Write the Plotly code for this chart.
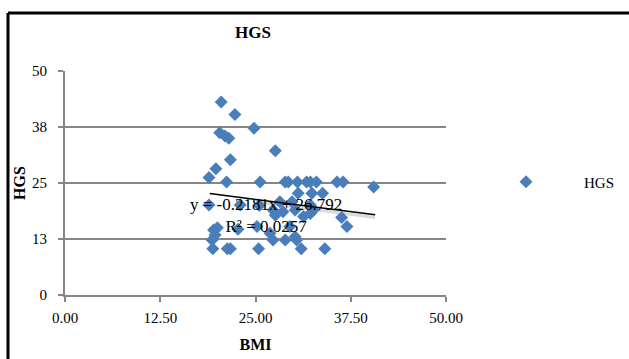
import plotly.graph_objects as go

bmi = [20.5, 22.3, 20.3, 21.0, 21.5, 24.8, 27.6, 21.7, 19.8, 18.9,
       21.2, 25.6, 28.9, 29.3, 30.5, 31.7, 32.2, 33.0, 35.7, 36.5,
       40.5, 30.6, 32.4, 33.8, 18.9, 23.0, 25.5, 28.2, 29.8, 32.2,
       27.3, 28.6, 30.2, 32.6, 31.3, 32.2, 36.3, 27.6, 37.0, 29.5,
       25.2, 19.5, 19.7, 19.3, 20.0, 22.7, 26.9, 27.3, 28.9, 30.2,
       30.4, 19.4, 21.3, 21.7, 25.4, 31.0, 34.1]
hgs = [43.1, 40.3, 36.2, 35.5, 35.0, 37.2, 32.2, 30.2, 28.2, 26.2,
       25.2, 25.2, 25.2, 25.2, 25.2, 25.2, 25.2, 25.2, 25.2, 25.2,
       24.1, 22.7, 22.7, 22.7, 20.1, 20.1, 20.0, 20.8, 20.8, 20.1,
       19.0, 18.6, 19.0, 19.0, 17.5, 18.2, 17.3, 17.8, 15.3, 15.3,
       15.3, 14.5, 13.4, 12.3, 15.0, 14.7, 13.8, 12.3, 12.3, 13.0,
       12.3, 10.3, 10.3, 10.3, 10.3, 10.3, 10.3]

slope = -0.2181
intercept = 26.792
r2 = 0.0257
trend_x = [19.0, 40.7]

x_ticks = [0, 12.5, 25, 37.5, 50]
x_tick_text = ["0.00", "12.50", "25.00", "37.50", "50.00"]
y_ticks = [0, 12.5, 25, 37.5, 50]
y_tick_text = ["0", "13", "25", "38", "50"]

FONT = "Liberation Serif, Times New Roman, serif"
BLUE = "#4A7EBB"
GRID = "#868686"

trend_y = [slope * v + intercept for v in trend_x]

fig = go.Figure()
# shadow of trendline
fig.add_trace(go.Scatter(x=[trend_x[0] + 6, trend_x[1]],
                         y=[slope * (trend_x[0] + 6) + intercept - 0.6, trend_y[1] - 0.6],
                         mode="lines", line=dict(color="#dadada", width=3),
                         showlegend=False, hoverinfo="skip"))
fig.add_trace(go.Scatter(x=bmi, y=hgs, mode="markers", name="HGS",
                         marker=dict(symbol="diamond", size=10, color=BLUE,
                                     line=dict(width=0))))
fig.add_trace(go.Scatter(x=trend_x, y=trend_y, mode="lines",
                         line=dict(color="black", width=1.6), showlegend=False,
                         hoverinfo="skip"))

# equation label (two lines, one text block)
fig.add_annotation(x=(266 - 65) / 381, y=(295 - 215) / 224, xref="paper", yref="paper",
                   showarrow=False, text=f"y = {slope}x + {intercept}<br>R² = {r2}",
                   borderpad=0, align="center",
                   font=dict(family=FONT, size=17, color="black"))

# frame (top and left border)
fig.add_shape(type="line", xref="paper", yref="paper",
              x0=(8 - 65) / 381, x1=2.0, y0=(295 - 13) / 224, y1=(295 - 13) / 224,
              line=dict(color="black", width=3))
fig.add_shape(type="line", xref="paper", yref="paper",
              x0=(8 - 65) / 381, x1=(8 - 65) / 381, y0=-1.0, y1=(295 - 13) / 224,
              line=dict(color="black", width=3))

fig.update_layout(
    width=629, height=359,
    margin=dict(l=65, r=183, t=71, b=64, autoexpand=False),
    paper_bgcolor="white", plot_bgcolor="white",
    font=dict(family=FONT, size=15, color="black"),
    title=dict(text="<b>HGS</b>", x=(253) / 629, xanchor="center",
               y=1 - 32 / 359, yanchor="middle",
               font=dict(family=FONT, size=17, color="black")),
    showlegend=True,
    legend=dict(x=(468 - 65) / 381, y=(295 - 182) / 224, xanchor="left", yanchor="middle",
                font=dict(family=FONT, size=15, color="black"),
                itemwidth=106, bgcolor="rgba(0,0,0,0)"),
    xaxis=dict(range=[0, 50], tickvals=x_ticks, ticktext=x_tick_text,
               showgrid=False, zeroline=False, showline=True, linecolor=GRID, linewidth=2,
               ticks="outside", ticklen=5, tickwidth=2, tickcolor=GRID,
               tickfont=dict(family=FONT, size=15), ticklabelstandoff=3,
               title=dict(text="<b>BMI</b>", font=dict(family=FONT, size=16), standoff=14)),
    yaxis=dict(range=[0, 50], tickvals=y_ticks, ticktext=y_tick_text,
               showgrid=True, gridcolor=GRID, gridwidth=2, zeroline=False,
               showline=True, linecolor=GRID, linewidth=2,
               ticks="outside", ticklen=5, tickwidth=2, tickcolor=GRID,
               tickfont=dict(family=FONT, size=15), ticklabelstandoff=8,
               title=dict(text="<b>HGS</b>", font=dict(family=FONT, size=16), standoff=2)),
)

fig.write_html("out.html")
